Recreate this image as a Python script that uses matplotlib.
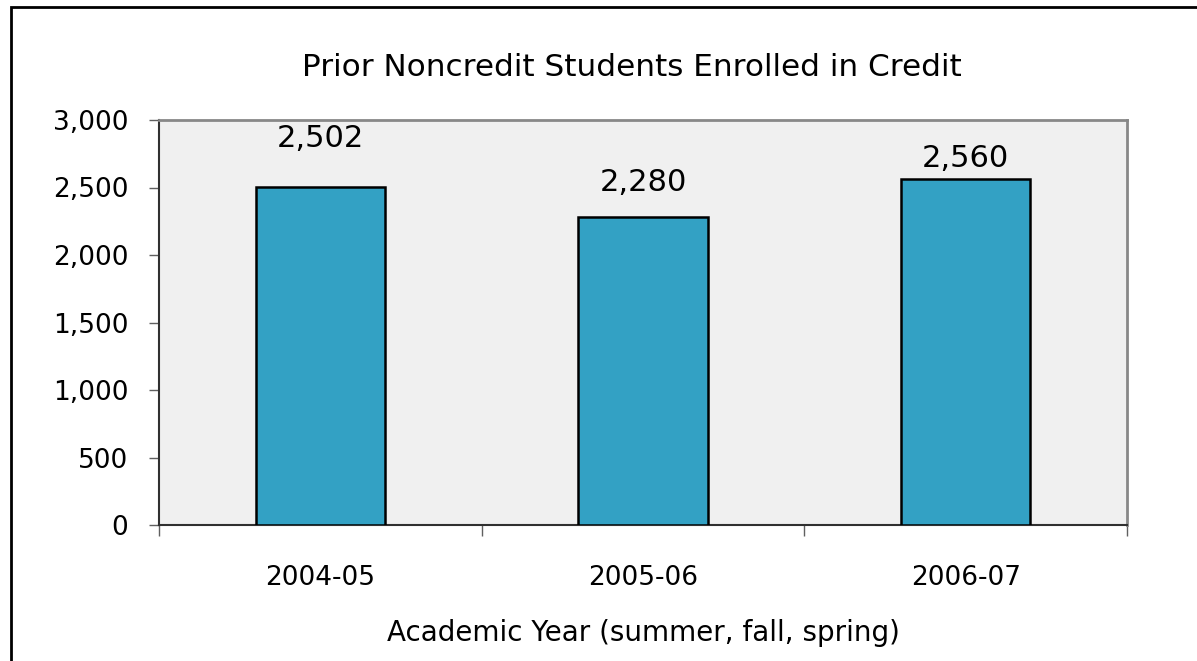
import matplotlib
matplotlib.use("Agg")
import matplotlib.pyplot as plt
from matplotlib.patches import Rectangle

categories = ["2004-05", "2005-06", "2006-07"]
values = [2502, 2280, 2560]
value_labels = ["2,502", "2,280", "2,560"]
y_ticks = [0, 500, 1000, 1500, 2000, 2500, 3000]
y_tick_labels = ["0", "500", "1,000", "1,500", "2,000", "2,500", "3,000"]

plt.rcParams['font.family'] = ['DejaVu Sans']

fig = plt.figure(figsize=(11.97, 6.61), dpi=100)
fig.patch.set_facecolor('white')
# outer frame
fig.add_artist(Rectangle((11/1197, -0.1), 1.2, 1 - 7/661 + 0.1, transform=fig.transFigure,
                         fill=False, edgecolor='black', linewidth=2))

ax = fig.add_axes([159/1197, 1 - 525/661, (1127 - 159)/1197, (525 - 120)/661])
ax.set_facecolor('#F0F0F0')

x = list(range(len(categories)))
ax.bar(x, values, width=0.40, color='#33A1C4', edgecolor='black', linewidth=1.8, zorder=3)

label_offsets = [49, 35, 21]  # pixel offsets above bar tops
for xi, v, lab, off in zip(x, values, value_labels, label_offsets):
    ax.annotate(lab, (xi, v), xytext=(0, off * 72 / 100), textcoords='offset points',
                ha='center', va='center', fontsize=22, color='black')

ax.set_xlim(-0.5, len(categories) - 0.5)
ax.set_ylim(0, 3000)
ax.set_yticks(y_ticks)
ax.set_yticklabels(y_tick_labels, fontsize=19)
ax.tick_params(axis='y', direction='out', length=7, width=1, colors='#606060', labelcolor='black', pad=15)

# x major ticks at boundaries, labels at centers
ax.set_xticks([i - 0.5 for i in range(len(categories) + 1)])
ax.set_xticklabels([])
ax.set_xticks(x, minor=True)
ax.set_xticklabels(categories, minor=True, fontsize=19)
ax.tick_params(axis='x', which='major', direction='out', length=8, width=1, colors='#606060')
ax.tick_params(axis='x', which='minor', length=0, pad=29, labelcolor='black')

ax.spines['left'].set_color('#303030')
ax.spines['bottom'].set_color('#303030')
ax.spines['left'].set_linewidth(1.5)
ax.spines['bottom'].set_linewidth(1.5)
ax.spines['top'].set_color('#888888')
ax.spines['right'].set_color('#888888')
ax.spines['top'].set_linewidth(2)
ax.spines['right'].set_linewidth(2)

ax.set_xlabel("Academic Year (summer, fall, spring)", fontsize=20, labelpad=20)
fig.text(632 / 1197, 1 - 68/661, "Prior Noncredit Students Enrolled in Credit",
         ha='center', va='center', fontsize=22.4)

fig.savefig("out.png", dpi=100)
